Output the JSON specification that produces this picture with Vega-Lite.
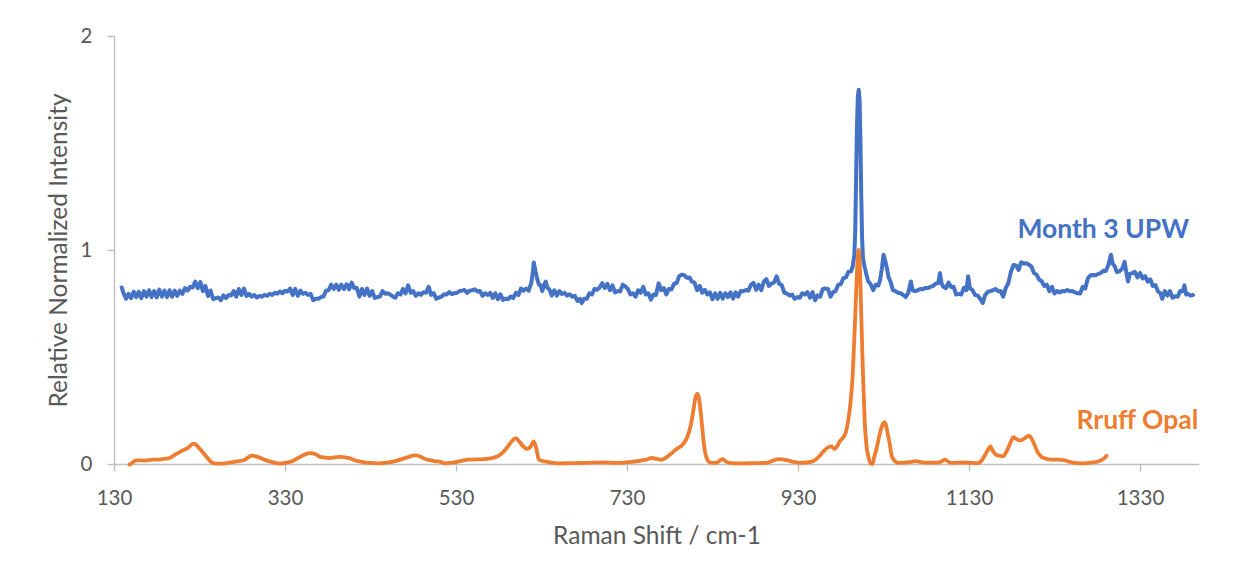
{
  "$schema": "https://vega.github.io/schema/vega-lite/v6.json",
  "width": 1085,
  "height": 428,
  "autosize": {"type": "none"},
  "padding": {"left": 114, "top": 36, "right": 55, "bottom": 117},
  "background": "white",
  "config": {
    "view": {"stroke": null},
    "font": "Lato",
    "axis": {
      "grid": false,
      "domainColor": "#BFBFBF",
      "domainWidth": 1.4,
      "tickColor": "#BFBFBF",
      "tickWidth": 1.4,
      "tickSize": 7,
      "labelColor": "#595959",
      "labelFont": "Lato",
      "labelFontSize": 20.5,
      "labelFlush": false,
      "labelOverlap": false,
      "labelBound": false,
      "titleColor": "#595959",
      "titleFont": "Lato",
      "titleFontSize": 24.5,
      "titleFontWeight": "normal"
    }
  },
  "datasets": {
    "upw": [
      {"shift":139,"intensity":0.825},{"shift":141,"intensity":0.80},{"shift":144,"intensity":0.772},{"shift":147,"intensity":0.795},{"shift":150,"intensity":0.775},{"shift":153,"intensity":0.805},{"shift":156,"intensity":0.78},{"shift":159,"intensity":0.805},{"shift":162,"intensity":0.775},{"shift":165,"intensity":0.808},{"shift":168,"intensity":0.782},{"shift":171,"intensity":0.812},{"shift":174,"intensity":0.78},{"shift":177,"intensity":0.808},{"shift":180,"intensity":0.778},{"shift":183,"intensity":0.815},{"shift":186,"intensity":0.782},{"shift":189,"intensity":0.81},{"shift":192,"intensity":0.78},{"shift":195,"intensity":0.812},{"shift":198,"intensity":0.782},{"shift":201,"intensity":0.81},{"shift":204,"intensity":0.786},{"shift":207,"intensity":0.81},{"shift":210,"intensity":0.795},{"shift":213,"intensity":0.822},{"shift":216,"intensity":0.81},{"shift":219,"intensity":0.828},{"shift":222,"intensity":0.825},{"shift":225,"intensity":0.852},{"shift":228,"intensity":0.822},{"shift":231,"intensity":0.85},{"shift":234,"intensity":0.808},{"shift":237,"intensity":0.832},{"shift":240,"intensity":0.785},{"shift":243,"intensity":0.81},{"shift":246,"intensity":0.77},{"shift":249,"intensity":0.775},{"shift":252,"intensity":0.778},{"shift":255,"intensity":0.765},{"shift":258,"intensity":0.788},{"shift":261,"intensity":0.775},{"shift":264,"intensity":0.79},{"shift":267,"intensity":0.788},{"shift":270,"intensity":0.808},{"shift":273,"intensity":0.782},{"shift":276,"intensity":0.818},{"shift":279,"intensity":0.79},{"shift":282,"intensity":0.82},{"shift":285,"intensity":0.785},{"shift":288,"intensity":0.795},{"shift":291,"intensity":0.782},{"shift":294,"intensity":0.79},{"shift":297,"intensity":0.778},{"shift":300,"intensity":0.785},{"shift":303,"intensity":0.782},{"shift":306,"intensity":0.79},{"shift":309,"intensity":0.786},{"shift":312,"intensity":0.795},{"shift":315,"intensity":0.79},{"shift":318,"intensity":0.80},{"shift":321,"intensity":0.796},{"shift":324,"intensity":0.806},{"shift":327,"intensity":0.798},{"shift":330,"intensity":0.81},{"shift":333,"intensity":0.806},{"shift":336,"intensity":0.82},{"shift":339,"intensity":0.79},{"shift":342,"intensity":0.818},{"shift":345,"intensity":0.786},{"shift":348,"intensity":0.81},{"shift":351,"intensity":0.795},{"shift":354,"intensity":0.80},{"shift":357,"intensity":0.79},{"shift":360,"intensity":0.795},{"shift":363,"intensity":0.765},{"shift":366,"intensity":0.772},{"shift":369,"intensity":0.772},{"shift":372,"intensity":0.78},{"shift":375,"intensity":0.782},{"shift":378,"intensity":0.81},{"shift":381,"intensity":0.812},{"shift":384,"intensity":0.838},{"shift":387,"intensity":0.818},{"shift":390,"intensity":0.838},{"shift":393,"intensity":0.814},{"shift":396,"intensity":0.838},{"shift":399,"intensity":0.818},{"shift":402,"intensity":0.84},{"shift":405,"intensity":0.816},{"shift":408,"intensity":0.848},{"shift":411,"intensity":0.822},{"shift":414,"intensity":0.822},{"shift":417,"intensity":0.782},{"shift":420,"intensity":0.818},{"shift":423,"intensity":0.79},{"shift":426,"intensity":0.82},{"shift":429,"intensity":0.786},{"shift":432,"intensity":0.808},{"shift":435,"intensity":0.776},{"shift":438,"intensity":0.78},{"shift":441,"intensity":0.782},{"shift":444,"intensity":0.808},{"shift":447,"intensity":0.796},{"shift":450,"intensity":0.798},{"shift":453,"intensity":0.792},{"shift":456,"intensity":0.783},{"shift":459,"intensity":0.777},{"shift":462,"intensity":0.798},{"shift":465,"intensity":0.792},{"shift":468,"intensity":0.818},{"shift":471,"intensity":0.797},{"shift":474,"intensity":0.835},{"shift":477,"intensity":0.80},{"shift":480,"intensity":0.808},{"shift":483,"intensity":0.786},{"shift":486,"intensity":0.798},{"shift":489,"intensity":0.79},{"shift":492,"intensity":0.803},{"shift":495,"intensity":0.80},{"shift":498,"intensity":0.828},{"shift":501,"intensity":0.79},{"shift":504,"intensity":0.798},{"shift":507,"intensity":0.772},{"shift":510,"intensity":0.778},{"shift":513,"intensity":0.782},{"shift":516,"intensity":0.793},{"shift":519,"intensity":0.792},{"shift":522,"intensity":0.803},{"shift":525,"intensity":0.794},{"shift":528,"intensity":0.798},{"shift":531,"intensity":0.80},{"shift":534,"intensity":0.808},{"shift":537,"intensity":0.81},{"shift":540,"intensity":0.813},{"shift":543,"intensity":0.80},{"shift":546,"intensity":0.81},{"shift":549,"intensity":0.812},{"shift":552,"intensity":0.816},{"shift":555,"intensity":0.806},{"shift":558,"intensity":0.808},{"shift":561,"intensity":0.786},{"shift":564,"intensity":0.798},{"shift":567,"intensity":0.79},{"shift":570,"intensity":0.80},{"shift":573,"intensity":0.776},{"shift":576,"intensity":0.798},{"shift":579,"intensity":0.77},{"shift":582,"intensity":0.793},{"shift":585,"intensity":0.767},{"shift":588,"intensity":0.773},{"shift":591,"intensity":0.77},{"shift":594,"intensity":0.783},{"shift":597,"intensity":0.776},{"shift":600,"intensity":0.80},{"shift":603,"intensity":0.79},{"shift":606,"intensity":0.82},{"shift":609,"intensity":0.81},{"shift":612,"intensity":0.82},{"shift":615,"intensity":0.81},{"shift":618,"intensity":0.845},{"shift":620,"intensity":0.90},{"shift":621,"intensity":0.942},{"shift":623,"intensity":0.90},{"shift":625,"intensity":0.865},{"shift":627,"intensity":0.838},{"shift":629,"intensity":0.835},{"shift":631,"intensity":0.808},{"shift":633,"intensity":0.838},{"shift":635,"intensity":0.852},{"shift":637,"intensity":0.822},{"shift":639,"intensity":0.818},{"shift":642,"intensity":0.787},{"shift":645,"intensity":0.812},{"shift":648,"intensity":0.787},{"shift":651,"intensity":0.808},{"shift":654,"intensity":0.794},{"shift":657,"intensity":0.80},{"shift":660,"intensity":0.787},{"shift":663,"intensity":0.793},{"shift":666,"intensity":0.782},{"shift":669,"intensity":0.786},{"shift":672,"intensity":0.762},{"shift":675,"intensity":0.772},{"shift":677,"intensity":0.752},{"shift":680,"intensity":0.772},{"shift":683,"intensity":0.772},{"shift":686,"intensity":0.798},{"shift":689,"intensity":0.792},{"shift":692,"intensity":0.818},{"shift":695,"intensity":0.814},{"shift":698,"intensity":0.825},{"shift":701,"intensity":0.845},{"shift":704,"intensity":0.822},{"shift":707,"intensity":0.842},{"shift":710,"intensity":0.812},{"shift":713,"intensity":0.835},{"shift":716,"intensity":0.802},{"shift":719,"intensity":0.808},{"shift":722,"intensity":0.806},{"shift":725,"intensity":0.838},{"shift":728,"intensity":0.83},{"shift":731,"intensity":0.818},{"shift":734,"intensity":0.792},{"shift":737,"intensity":0.798},{"shift":740,"intensity":0.782},{"shift":743,"intensity":0.812},{"shift":746,"intensity":0.80},{"shift":749,"intensity":0.828},{"shift":752,"intensity":0.792},{"shift":755,"intensity":0.798},{"shift":758,"intensity":0.768},{"shift":761,"intensity":0.792},{"shift":764,"intensity":0.79},{"shift":767,"intensity":0.845},{"shift":770,"intensity":0.812},{"shift":773,"intensity":0.822},{"shift":776,"intensity":0.792},{"shift":779,"intensity":0.818},{"shift":782,"intensity":0.816},{"shift":785,"intensity":0.842},{"shift":788,"intensity":0.845},{"shift":791,"intensity":0.878},{"shift":794,"intensity":0.885},{"shift":797,"intensity":0.882},{"shift":800,"intensity":0.87},{"shift":803,"intensity":0.872},{"shift":806,"intensity":0.852},{"shift":809,"intensity":0.848},{"shift":812,"intensity":0.812},{"shift":815,"intensity":0.832},{"shift":818,"intensity":0.80},{"shift":821,"intensity":0.814},{"shift":824,"intensity":0.792},{"shift":827,"intensity":0.802},{"shift":830,"intensity":0.77},{"shift":833,"intensity":0.797},{"shift":836,"intensity":0.772},{"shift":839,"intensity":0.80},{"shift":842,"intensity":0.773},{"shift":845,"intensity":0.798},{"shift":848,"intensity":0.78},{"shift":851,"intensity":0.802},{"shift":854,"intensity":0.773},{"shift":857,"intensity":0.802},{"shift":860,"intensity":0.782},{"shift":863,"intensity":0.808},{"shift":866,"intensity":0.807},{"shift":869,"intensity":0.813},{"shift":872,"intensity":0.81},{"shift":875,"intensity":0.838},{"shift":878,"intensity":0.846},{"shift":881,"intensity":0.814},{"shift":884,"intensity":0.838},{"shift":887,"intensity":0.812},{"shift":890,"intensity":0.852},{"shift":893,"intensity":0.864},{"shift":896,"intensity":0.832},{"shift":899,"intensity":0.843},{"shift":902,"intensity":0.848},{"shift":905,"intensity":0.877},{"shift":908,"intensity":0.842},{"shift":911,"intensity":0.836},{"shift":914,"intensity":0.80},{"shift":917,"intensity":0.797},{"shift":920,"intensity":0.787},{"shift":923,"intensity":0.792},{"shift":926,"intensity":0.772},{"shift":929,"intensity":0.78},{"shift":932,"intensity":0.777},{"shift":935,"intensity":0.798},{"shift":938,"intensity":0.792},{"shift":941,"intensity":0.803},{"shift":944,"intensity":0.777},{"shift":947,"intensity":0.803},{"shift":950,"intensity":0.765},{"shift":953,"intensity":0.788},{"shift":956,"intensity":0.782},{"shift":959,"intensity":0.818},{"shift":962,"intensity":0.82},{"shift":965,"intensity":0.818},{"shift":968,"intensity":0.782},{"shift":971,"intensity":0.803},{"shift":974,"intensity":0.808},{"shift":977,"intensity":0.838},{"shift":980,"intensity":0.84},{"shift":983,"intensity":0.868},{"shift":986,"intensity":0.872},{"shift":989,"intensity":0.898},{"shift":992,"intensity":0.90},{"shift":994,"intensity":0.923},{"shift":996,"intensity":0.98},{"shift":997,"intensity":1.10},{"shift":998,"intensity":1.35},{"shift":999,"intensity":1.58},{"shift":1000,"intensity":1.72},{"shift":1001,"intensity":1.749},{"shift":1002,"intensity":1.70},{"shift":1003,"intensity":1.52},{"shift":1004,"intensity":1.25},{"shift":1005,"intensity":1.05},{"shift":1006,"intensity":0.96},{"shift":1008,"intensity":0.92},{"shift":1010,"intensity":0.885},{"shift":1012,"intensity":0.855},{"shift":1015,"intensity":0.84},{"shift":1018,"intensity":0.812},{"shift":1021,"intensity":0.838},{"shift":1024,"intensity":0.834},{"shift":1026,"intensity":0.86},{"shift":1028,"intensity":0.91},{"shift":1030,"intensity":0.978},{"shift":1032,"intensity":0.95},{"shift":1034,"intensity":0.915},{"shift":1036,"intensity":0.872},{"shift":1038,"intensity":0.855},{"shift":1041,"intensity":0.812},{"shift":1044,"intensity":0.808},{"shift":1047,"intensity":0.80},{"shift":1050,"intensity":0.798},{"shift":1053,"intensity":0.79},{"shift":1056,"intensity":0.78},{"shift":1059,"intensity":0.80},{"shift":1062,"intensity":0.853},{"shift":1064,"intensity":0.812},{"shift":1067,"intensity":0.808},{"shift":1070,"intensity":0.812},{"shift":1073,"intensity":0.818},{"shift":1076,"intensity":0.817},{"shift":1079,"intensity":0.823},{"shift":1082,"intensity":0.822},{"shift":1085,"intensity":0.828},{"shift":1088,"intensity":0.832},{"shift":1091,"intensity":0.843},{"shift":1094,"intensity":0.846},{"shift":1096,"intensity":0.892},{"shift":1098,"intensity":0.842},{"shift":1100,"intensity":0.828},{"shift":1103,"intensity":0.822},{"shift":1106,"intensity":0.848},{"shift":1109,"intensity":0.827},{"shift":1112,"intensity":0.828},{"shift":1115,"intensity":0.792},{"shift":1118,"intensity":0.795},{"shift":1121,"intensity":0.792},{"shift":1124,"intensity":0.823},{"shift":1127,"intensity":0.812},{"shift":1129,"intensity":0.877},{"shift":1131,"intensity":0.822},{"shift":1134,"intensity":0.813},{"shift":1137,"intensity":0.79},{"shift":1140,"intensity":0.788},{"shift":1143,"intensity":0.772},{"shift":1146,"intensity":0.752},{"shift":1149,"intensity":0.79},{"shift":1152,"intensity":0.805},{"shift":1155,"intensity":0.808},{"shift":1158,"intensity":0.812},{"shift":1161,"intensity":0.818},{"shift":1164,"intensity":0.807},{"shift":1167,"intensity":0.808},{"shift":1170,"intensity":0.782},{"shift":1173,"intensity":0.823},{"shift":1176,"intensity":0.845},{"shift":1179,"intensity":0.898},{"shift":1182,"intensity":0.93},{"shift":1185,"intensity":0.928},{"shift":1188,"intensity":0.907},{"shift":1191,"intensity":0.943},{"shift":1194,"intensity":0.937},{"shift":1197,"intensity":0.938},{"shift":1200,"intensity":0.932},{"shift":1203,"intensity":0.923},{"shift":1206,"intensity":0.892},{"shift":1209,"intensity":0.885},{"shift":1212,"intensity":0.862},{"shift":1215,"intensity":0.854},{"shift":1218,"intensity":0.832},{"shift":1221,"intensity":0.838},{"shift":1224,"intensity":0.807},{"shift":1227,"intensity":0.828},{"shift":1230,"intensity":0.797},{"shift":1233,"intensity":0.808},{"shift":1236,"intensity":0.802},{"shift":1239,"intensity":0.808},{"shift":1242,"intensity":0.807},{"shift":1245,"intensity":0.813},{"shift":1248,"intensity":0.807},{"shift":1251,"intensity":0.808},{"shift":1254,"intensity":0.802},{"shift":1257,"intensity":0.798},{"shift":1260,"intensity":0.797},{"shift":1263,"intensity":0.828},{"shift":1266,"intensity":0.82},{"shift":1269,"intensity":0.868},{"shift":1272,"intensity":0.882},{"shift":1275,"intensity":0.883},{"shift":1278,"intensity":0.882},{"shift":1281,"intensity":0.888},{"shift":1284,"intensity":0.892},{"shift":1287,"intensity":0.903},{"shift":1290,"intensity":0.902},{"shift":1293,"intensity":0.93},{"shift":1296,"intensity":0.978},{"shift":1298,"intensity":0.935},{"shift":1300,"intensity":0.927},{"shift":1303,"intensity":0.897},{"shift":1306,"intensity":0.90},{"shift":1309,"intensity":0.912},{"shift":1312,"intensity":0.945},{"shift":1314,"intensity":0.895},{"shift":1316,"intensity":0.853},{"shift":1318,"intensity":0.888},{"shift":1321,"intensity":0.892},{"shift":1324,"intensity":0.898},{"shift":1327,"intensity":0.872},{"shift":1330,"intensity":0.893},{"shift":1333,"intensity":0.867},{"shift":1336,"intensity":0.878},{"shift":1339,"intensity":0.852},{"shift":1342,"intensity":0.863},{"shift":1345,"intensity":0.832},{"shift":1348,"intensity":0.836},{"shift":1351,"intensity":0.807},{"shift":1354,"intensity":0.798},{"shift":1356,"intensity":0.772},{"shift":1359,"intensity":0.808},{"shift":1362,"intensity":0.787},{"shift":1365,"intensity":0.808},{"shift":1368,"intensity":0.777},{"shift":1371,"intensity":0.784},{"shift":1374,"intensity":0.782},{"shift":1377,"intensity":0.808},{"shift":1380,"intensity":0.807},{"shift":1382,"intensity":0.835},{"shift":1384,"intensity":0.792},{"shift":1386,"intensity":0.795},{"shift":1389,"intensity":0.787},{"shift":1392,"intensity":0.79}
    ],
    "opal": [
      {"shift":148,"intensity":-0.003},{"shift":152,"intensity":0.008},{"shift":156,"intensity":0.017},{"shift":165,"intensity":0.016},{"shift":175,"intensity":0.02},{"shift":185,"intensity":0.022},{"shift":195,"intensity":0.028},{"shift":202,"intensity":0.045},{"shift":208,"intensity":0.059},{"shift":216,"intensity":0.074},{"shift":223,"intensity":0.095},{"shift":226,"intensity":0.09},{"shift":230,"intensity":0.072},{"shift":238,"intensity":0.035},{"shift":243,"intensity":0.012},{"shift":247,"intensity":0.003},{"shift":257,"intensity":0.002},{"shift":265,"intensity":0.006},{"shift":273,"intensity":0.012},{"shift":283,"intensity":0.02},{"shift":291,"intensity":0.039},{"shift":298,"intensity":0.033},{"shift":308,"intensity":0.017},{"shift":316,"intensity":0.008},{"shift":324,"intensity":0.002},{"shift":332,"intensity":0.006},{"shift":339,"intensity":0.014},{"shift":349,"intensity":0.036},{"shift":359,"intensity":0.051},{"shift":366,"intensity":0.045},{"shift":371,"intensity":0.033},{"shift":382,"intensity":0.028},{"shift":394,"intensity":0.033},{"shift":406,"intensity":0.026},{"shift":412,"intensity":0.017},{"shift":420,"intensity":0.01},{"shift":429,"intensity":0.005},{"shift":440,"intensity":0.003},{"shift":449,"intensity":0.006},{"shift":462,"intensity":0.017},{"shift":472,"intensity":0.03},{"shift":482,"intensity":0.04},{"shift":488,"intensity":0.035},{"shift":494,"intensity":0.023},{"shift":505,"intensity":0.014},{"shift":512,"intensity":0.01},{"shift":517,"intensity":0.003},{"shift":528,"intensity":0.008},{"shift":544,"intensity":0.02},{"shift":564,"intensity":0.023},{"shift":579,"intensity":0.036},{"shift":585,"intensity":0.055},{"shift":590,"intensity":0.078},{"shift":595,"intensity":0.105},{"shift":600,"intensity":0.121},{"shift":604,"intensity":0.105},{"shift":608,"intensity":0.085},{"shift":613,"intensity":0.07},{"shift":617,"intensity":0.08},{"shift":621,"intensity":0.106},{"shift":624,"intensity":0.07},{"shift":627,"intensity":0.02},{"shift":634,"intensity":0.012},{"shift":650,"intensity":0.003},{"shift":665,"intensity":0.004},{"shift":680,"intensity":0.005},{"shift":700,"intensity":0.008},{"shift":720,"intensity":0.005},{"shift":735,"intensity":0.01},{"shift":743,"intensity":0.014},{"shift":752,"intensity":0.02},{"shift":759,"intensity":0.028},{"shift":765,"intensity":0.024},{"shift":770,"intensity":0.02},{"shift":780,"intensity":0.043},{"shift":788,"intensity":0.07},{"shift":795,"intensity":0.09},{"shift":801,"intensity":0.13},{"shift":805,"intensity":0.19},{"shift":808,"intensity":0.26},{"shift":810,"intensity":0.31},{"shift":812.3,"intensity":0.328},{"shift":814,"intensity":0.31},{"shift":816,"intensity":0.25},{"shift":818,"intensity":0.17},{"shift":820,"intensity":0.09},{"shift":823,"intensity":0.03},{"shift":827,"intensity":0.008},{"shift":834,"intensity":0.005},{"shift":838,"intensity":0.015},{"shift":842,"intensity":0.023},{"shift":846,"intensity":0.01},{"shift":852,"intensity":0.004},{"shift":866,"intensity":0.003},{"shift":880,"intensity":0.004},{"shift":893,"intensity":0.005},{"shift":900,"intensity":0.015},{"shift":907,"intensity":0.023},{"shift":912,"intensity":0.022},{"shift":918,"intensity":0.017},{"shift":925,"intensity":0.01},{"shift":932,"intensity":0.005},{"shift":940,"intensity":0.007},{"shift":948,"intensity":0.014},{"shift":955,"intensity":0.036},{"shift":960,"intensity":0.06},{"shift":964,"intensity":0.075},{"shift":969,"intensity":0.082},{"shift":973,"intensity":0.07},{"shift":976,"intensity":0.085},{"shift":979,"intensity":0.106},{"shift":983,"intensity":0.125},{"shift":986,"intensity":0.15},{"shift":989,"intensity":0.21},{"shift":992,"intensity":0.31},{"shift":994,"intensity":0.42},{"shift":996,"intensity":0.6},{"shift":998,"intensity":0.8},{"shift":1000,"intensity":0.97},{"shift":1001,"intensity":1.0},{"shift":1002,"intensity":0.96},{"shift":1003,"intensity":0.85},{"shift":1004,"intensity":0.69},{"shift":1006,"intensity":0.42},{"shift":1008,"intensity":0.2},{"shift":1010,"intensity":0.09},{"shift":1012,"intensity":0.04},{"shift":1015,"intensity":0.002},{"shift":1017,"intensity":0.0},{"shift":1019,"intensity":0.03},{"shift":1022,"intensity":0.075},{"shift":1025,"intensity":0.13},{"shift":1028,"intensity":0.175},{"shift":1031,"intensity":0.195},{"shift":1033,"intensity":0.18},{"shift":1035,"intensity":0.14},{"shift":1037,"intensity":0.1},{"shift":1039,"intensity":0.05},{"shift":1041,"intensity":0.025},{"shift":1045,"intensity":0.008},{"shift":1049,"intensity":0.005},{"shift":1055,"intensity":0.006},{"shift":1062,"intensity":0.01},{"shift":1068,"intensity":0.013},{"shift":1075,"intensity":0.008},{"shift":1083,"intensity":0.006},{"shift":1092,"intensity":0.006},{"shift":1098,"intensity":0.012},{"shift":1102,"intensity":0.02},{"shift":1106,"intensity":0.01},{"shift":1110,"intensity":0.005},{"shift":1125,"intensity":0.007},{"shift":1140,"intensity":0.004},{"shift":1144,"intensity":0.012},{"shift":1148,"intensity":0.036},{"shift":1152,"intensity":0.065},{"shift":1155,"intensity":0.082},{"shift":1158,"intensity":0.06},{"shift":1162,"intensity":0.043},{"shift":1166,"intensity":0.038},{"shift":1170,"intensity":0.036},{"shift":1174,"intensity":0.06},{"shift":1178,"intensity":0.095},{"shift":1182,"intensity":0.126},{"shift":1186,"intensity":0.115},{"shift":1190,"intensity":0.11},{"shift":1195,"intensity":0.12},{"shift":1200,"intensity":0.132},{"shift":1203,"intensity":0.12},{"shift":1207,"intensity":0.085},{"shift":1211,"intensity":0.05},{"shift":1215,"intensity":0.033},{"shift":1220,"intensity":0.025},{"shift":1226,"intensity":0.02},{"shift":1234,"intensity":0.02},{"shift":1242,"intensity":0.017},{"shift":1248,"intensity":0.01},{"shift":1254,"intensity":0.005},{"shift":1260,"intensity":0.003},{"shift":1266,"intensity":0.003},{"shift":1272,"intensity":0.006},{"shift":1281,"intensity":0.012},{"shift":1287,"intensity":0.023},{"shift":1291,"intensity":0.039}
    ],
    "labels": [
      {"series":"Month 3 UPW","shift":1186.6,"intensity":1.056},
      {"series":"Rruff Opal","shift":1255.6,"intensity":0.164}
    ]
  },
  "encoding": {
    "x": {
      "field": "shift",
      "type": "quantitative",
      "scale": {"domain": [130, 1399], "nice": false, "zero": false},
      "axis": {
        "title": "Raman Shift / cm-1",
        "values": [130, 330, 530, 730, 930, 1130, 1330],
        "format": "d",
        "labelBaseline": "alphabetic",
        "labelPadding": 33,
        "titleBaseline": "alphabetic",
        "titleY": 79
      }
    },
    "y": {
      "field": "intensity",
      "type": "quantitative",
      "scale": {"domain": [0, 2], "nice": false},
      "axis": {
        "title": "Relative Normalized Intensity",
        "values": [0, 1, 2],
        "labelExpr": "toString(datum.value)",
        "labelPadding": 15,
        "titleBaseline": "alphabetic",
        "titleX": -48,
        "titleY": 214,
        "titleAlign": "center",
        "titleAngle": -90
      }
    }
  },
  "layer": [
    {
      "data": {"name": "upw"},
      "mark": {"type": "line", "color": "#4472C4", "strokeWidth": 4, "strokeJoin": "round", "strokeCap": "round"}
    },
    {
      "data": {"name": "opal"},
      "mark": {"type": "line", "color": "#ED7D31", "strokeWidth": 3.8, "strokeJoin": "round", "strokeCap": "round", "interpolate": "monotone"}
    },
    {
      "data": {"name": "labels"},
      "mark": {"type": "text", "align": "left", "baseline": "alphabetic", "font": "Lato", "fontSize": 26.5, "fontWeight": "bold"},
      "encoding": {
        "text": {"field": "series"},
        "color": {
          "field": "series",
          "type": "nominal",
          "scale": {"domain": ["Month 3 UPW", "Rruff Opal"], "range": ["#4472C4", "#ED7D31"]},
          "legend": null
        }
      }
    }
  ]
}
